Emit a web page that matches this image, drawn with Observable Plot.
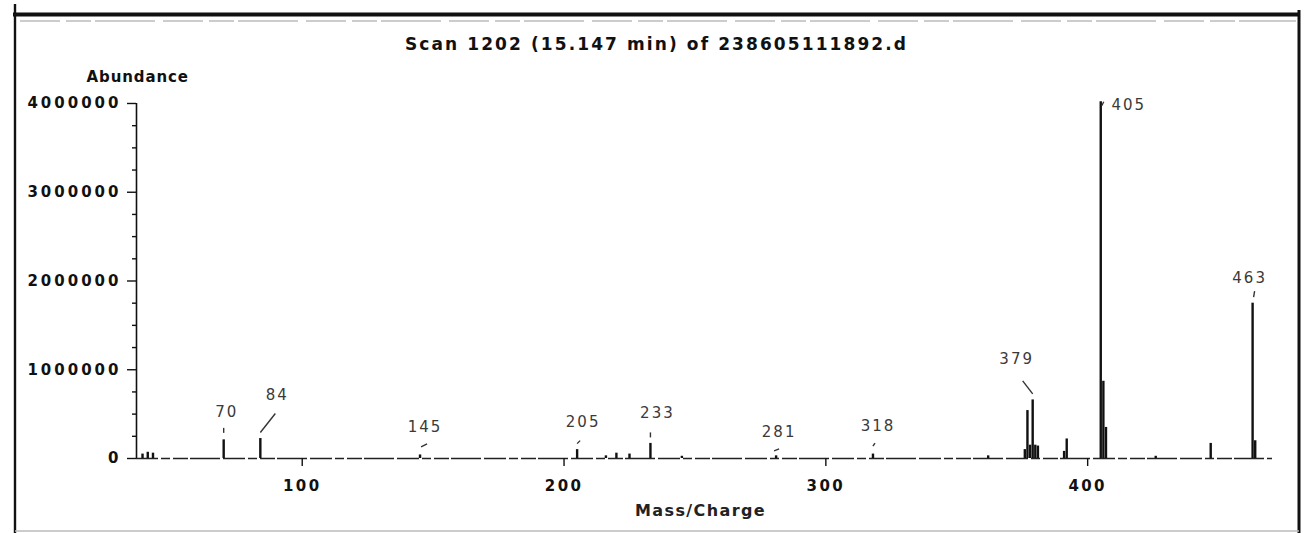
<!DOCTYPE html>
<html><head><meta charset="utf-8">
<script src="https://cdn.jsdelivr.net/npm/d3@7"></script>
<script src="https://cdn.jsdelivr.net/npm/@observablehq/plot@0.6"></script>
<style>
html,body{margin:0;padding:0;background:#fff;}
#chart svg{display:block;}
g[aria-label="y-axis tick label"] text{letter-spacing:3px;}
g[aria-label="x-axis tick label"] text{letter-spacing:2.4px;}
</style></head><body><div id="chart"></div>
<script>
// ---- data ----
const titleText = "Scan 1202 (15.147 min) of 238605111892.d";
const yLabelText = "Abundance";
const xLabelText = "Mass/Charge";
const xTicks = [100, 200, 300, 400];
const yTicks = [0, 1000000, 2000000, 3000000, 4000000];
const yMinorTicks = [250000, 500000, 750000, 1250000, 1500000, 1750000, 2250000, 2500000, 2750000,
                     3250000, 3500000, 3750000];
const xDomain = [36.7, 470.6];
const yDomain = [0, 4090000];
const peakMass = [39, 41, 43, 70, 84, 145, 205, 216, 220, 225, 233, 245, 281, 318, 362,
                  376, 377, 378, 379, 380, 381, 391, 392, 405, 406, 407, 426, 447, 463, 464];
const peakAbundance = [50000, 70000, 60000, 210000, 225000, 40000, 100000, 30000, 60000, 50000, 170000, 25000, 30000, 50000, 30000,
                       100000, 540000, 150000, 660000, 150000, 140000, 80000, 220000, 4020000, 870000, 350000, 25000, 170000, 1750000, 200000];
const labelMass = [70, 84, 145, 205, 233, 281, 318, 379, 405, 463];

// ---- styles: label offsets & leader lines, in pixels relative to the peak top ----
const labelStyle = {
  70:  {dx: 3,   dy: -28, leader: [0, -7, 0, -12]},
  84:  {dx: 17,  dy: -43, leader: [0, -6, 15, -25]},
  145: {dx: 5,   dy: -28, leader: [1, -8, 7, -11]},
  205: {dx: 6,   dy: -27, leader: [0, -6, 3, -9]},
  233: {dx: 7,   dy: -30, leader: [0, -6, 0, -11]},
  281: {dx: 3,   dy: -24, leader: [-2, -5, 3, -7]},
  318: {dx: 5,   dy: -28, leader: [0, -8, 2, -11]},
  379: {dx: -16, dy: -41, leader: [0, -6, -10, -19]},
  405: {dx: 28,  dy: 3,   leader: [1, 4, 3, 0]},
  463: {dx: -3,  dy: -25, leader: [1, -6, 2, -12]}
};
const letterSpacing = {title: 2.1, yLabel: 0.9, xLabel: 1.4, peak: 2};

const W = 1307, H = 533;
const M = {top: 95, right: 35, bottom: 75, left: 136};

const peaks = peakMass.map((m, i) => ({mass: m, abundance: peakAbundance[i]}));
const labelled = labelMass.map(m => peaks.find(p => p.mass === m));

// pixel -> data unit factors (derived from the scale setup)
const kx = (W - M.left - M.right) / (xDomain[1] - xDomain[0]);
const ky = (H - M.top - M.bottom) / (yDomain[1] - yDomain[0]);
const leaders = labelled.map(p => {
  const [x1, y1, x2, y2] = labelStyle[p.mass].leader;
  return {x1: p.mass + x1 / kx, y1: p.abundance - y1 / ky, x2: p.mass + x2 / kx, y2: p.abundance - y2 / ky};
});

const labelMarks = labelled.map(p => Plot.text([p], {
  x: "mass", y: "abundance", text: d => String(d.mass),
  dx: labelStyle[p.mass].dx, dy: labelStyle[p.mass].dy,
  fontSize: 15, fill: "#3a3a3a"
}));

const chart = Plot.plot({
  width: W, height: H,
  marginTop: M.top, marginRight: M.right, marginBottom: M.bottom, marginLeft: M.left,
  style: {fontFamily: "'DejaVu Sans', sans-serif", background: "white", color: "#111"},
  x: {type: "linear", domain: xDomain},
  y: {type: "linear", domain: yDomain},
  marks: [
    Plot.ruleY([0], {stroke: "#222", strokeWidth: 1.5, strokeDasharray: "22,3,9,3,15,2,30,3"}),
    Plot.ruleX([xDomain[0]], {y1: 0, y2: yTicks[yTicks.length - 1], stroke: "#111", strokeWidth: 1.6}),
    Plot.axisY(yMinorTicks, {tickSize: 4, tickFormat: () => "", label: null, stroke: "#111", strokeWidth: 1.4}),
    Plot.axisY(yTicks, {tickSize: 9, tickPadding: 6, tickFormat: d3.format("d"), label: null,
      fontWeight: "bold", fontSize: 15, stroke: "#111", strokeWidth: 1.4}),
    Plot.axisX(xTicks, {tickSize: 8, tickPadding: 14, tickFormat: d3.format("d"), label: null,
      fontWeight: "bold", fontSize: 15, stroke: "#111", strokeWidth: 1.4}),
    Plot.ruleX(peaks, {x: "mass", y1: 0, y2: "abundance", stroke: "#111", strokeWidth: 2.4}),
    Plot.link(leaders, {x1: "x1", y1: "y1", x2: "x2", y2: "y2", stroke: "#333", strokeWidth: 1.4}),
    ...labelMarks,
    Plot.text([titleText], {frameAnchor: "top", dx: -48, dy: -58, fontWeight: "bold", fontSize: 17, fill: "#111"}),
    Plot.text([yLabelText], {frameAnchor: "top-left", textAnchor: "start", dx: -50, dy: -24, fontWeight: "bold", fontSize: 15, fill: "#111"}),
    Plot.text([xLabelText], {frameAnchor: "bottom", dx: -4, dy: 57, fontWeight: "bold", fontSize: 16, fill: "#222"})
  ]
});

// letter spacing of the scanned typeface
const svg = d3.select(chart);
const peakStrings = new Set(labelMass.map(String));
svg.selectAll("text").each(function () {
  const t = this.textContent;
  let ls = null;
  if (t === titleText) ls = letterSpacing.title;
  else if (t === yLabelText) ls = letterSpacing.yLabel;
  else if (t === xLabelText) ls = letterSpacing.xLabel;
  else if (peakStrings.has(t) && !this.closest('g[aria-label$="tick label"]')) ls = letterSpacing.peak;
  if (ls !== null) this.style.letterSpacing = ls + "px";
});

// scanned-page border decoration
const deco = svg.append("g").attr("aria-label", "border");
deco.append("line").attr("x1", 13).attr("x2", 1300).attr("y1", 14.5).attr("y2", 14.5).attr("stroke", "#111").attr("stroke-width", 4);
deco.append("line").attr("x1", 20).attr("x2", 1296).attr("y1", 21).attr("y2", 21).attr("stroke", "#999").attr("stroke-width", 1.2).attr("stroke-dasharray", "40,6,25,4,60,8");
deco.append("line").attr("x1", 15).attr("x2", 15).attr("y1", 4).attr("y2", H).attr("stroke", "#111").attr("stroke-width", 2.4);
deco.append("line").attr("x1", 1299).attr("x2", 1299).attr("y1", 10).attr("y2", H).attr("stroke", "#111").attr("stroke-width", 3);
deco.append("line").attr("x1", 15).attr("x2", 1299).attr("y1", 531).attr("y2", 531).attr("stroke", "#bbb").attr("stroke-width", 1.5);

document.getElementById("chart").append(chart);
</script></body></html>
